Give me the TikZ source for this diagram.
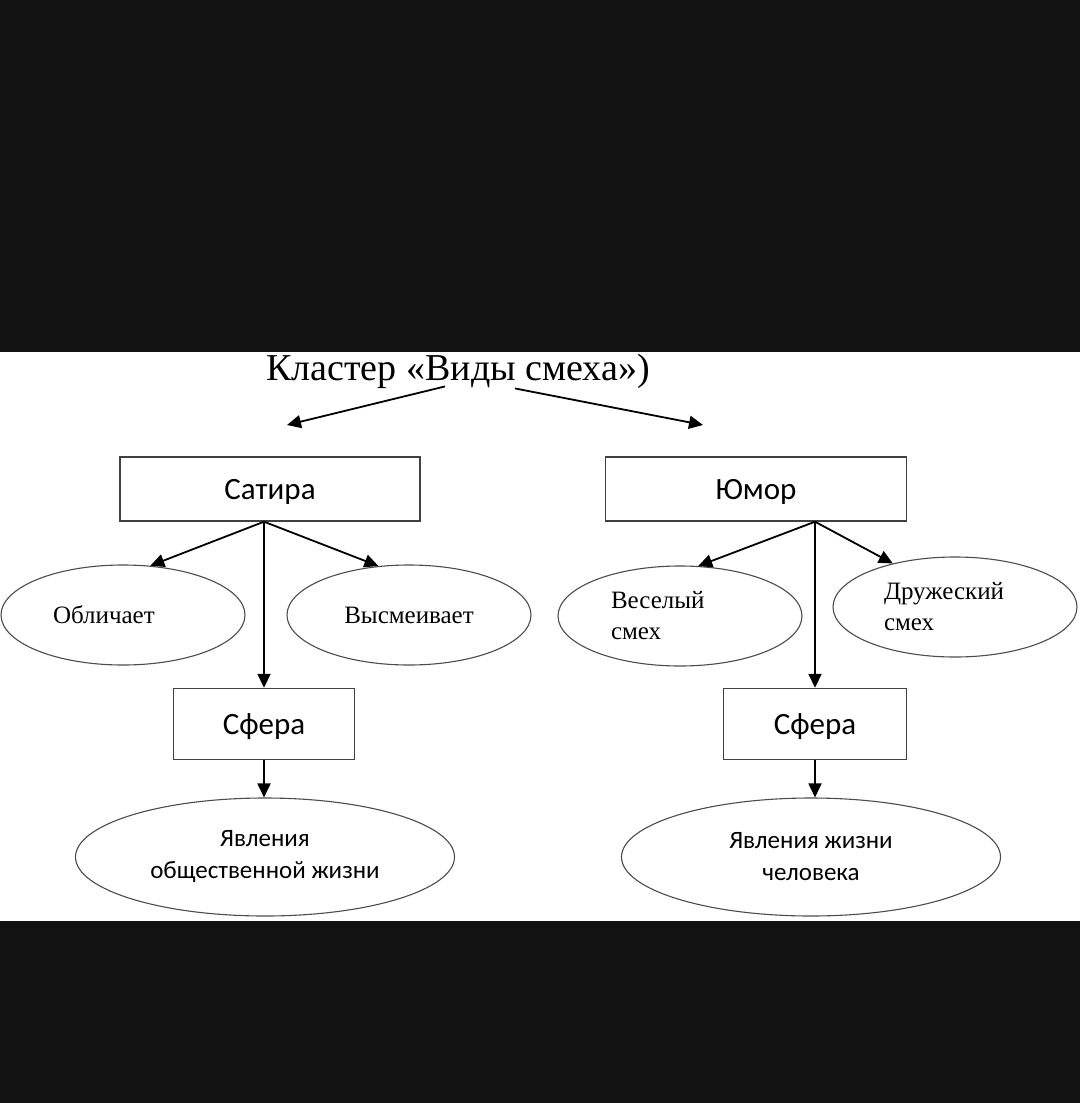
\documentclass[tikz,border=0pt]{standalone}
\usepackage{fontspec}
\setmainfont{Liberation Serif}
\newfontfamily\calibri{Carlito}
\usetikzlibrary{shapes.geometric,arrows.meta}

\begin{document}
\begin{tikzpicture}[x=1pt,y=1pt,yscale=-1,xscale=1,
  box/.style={draw=black!75,line width=1.4pt,inner sep=0pt,text depth=0pt,font=\calibri\fontsize{31}{33}\selectfont},
  oval/.style={ellipse,draw=black!70,line width=1.1pt,inner sep=0pt,minimum width=244pt,minimum height=100pt,font=\fontsize{25}{31}\selectfont},
  bigoval/.style={ellipse,draw=black!70,line width=1.1pt,inner sep=0pt,minimum width=379pt,minimum height=118pt,align=center,font=\calibri\fontsize{25}{32}\selectfont},
  arr/.style={-{Triangle[length=14pt,width=13pt]},line width=1.8pt}]
\useasboundingbox (0,0) rectangle (1080,1103);

% background
\fill[black!93] (0,0) rectangle (1080,1103);
\fill[white] (0,352) rectangle (1080,921);

% Title
\node (title) at (458,371) [inner sep=0pt,font=\fontsize{38}{40}\selectfont] {Кластер «Виды смеха»)};
\coordinate (tsat) at (287,425);
\coordinate (thum) at (703,425);

% Satira side
\node (satira) at (270,489) [box,minimum width=300pt,minimum height=64pt] {Сатира};
\node (oblich) at (123,615) [oval,text width=140pt,align=left] {Обличает};
\node (vysm) at (409,615) [oval] {Высмеивает};
\node (sfera1) at (264,724) [box,minimum width=181pt,minimum height=71pt] {Сфера};
\node (yavl1) at (265,857) [bigoval] {Явления\\общественной жизни};

% Humor side
\node (humor) at (756,489) [box,minimum width=301pt,minimum height=64pt] {Юмор};
\node (vesel) at (680,616) [oval,text width=138pt,align=left] {Веселый\\смех};
\node (druzh) at (955,607) [oval,text width=142pt,align=left] {Дружеский\\смех};
\node (sfera2) at (815,724) [box,minimum width=183pt,minimum height=71pt] {Сфера};
\node (yavl2) at (811,857) [bigoval] {Явления жизни\\человека};

% Arrows
\draw[arr] ([xshift=-13pt,yshift=-2pt]title.south) -- (tsat);
\draw[arr] ([xshift=57pt]title.south) -- (thum);

\draw[arr] (sfera1.north |- satira.south) -- (oblich.61);
\draw[arr] (sfera1.north |- satira.south) -- (vysm.122);
\draw[arr] (sfera1.north |- satira.south) -- (sfera1.north);
\draw[arr] (sfera1.south) -- (sfera1.south |- yavl1.north);

\draw[arr] (sfera2.north |- humor.south) -- (vesel.70);
\draw[arr] (sfera2.north |- humor.south) -- (druzh.145);
\draw[arr] (sfera2.north |- humor.south) -- (sfera2.north);
\draw[arr] (sfera2.south) -- (sfera2.south |- yavl2.north);

\end{tikzpicture}
\end{document}
